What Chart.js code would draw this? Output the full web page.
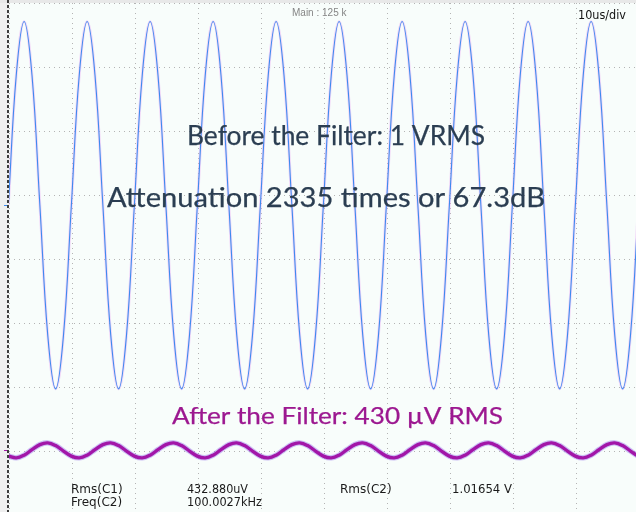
<!DOCTYPE html>
<html>
<head>
<meta charset="utf-8">
<script src="https://cdn.jsdelivr.net/npm/chart.js@4.4.1/dist/chart.umd.min.js"></script>
<style>
  html, body { margin: 0; padding: 0; overflow: hidden; background: #e8e8e8; }
  #scope { position: absolute; left: 0; top: 0; width: 640px; height: 516px; }
</style>
</head>
<body>
<div id="scope"><canvas id="scopeChart"></canvas></div>
<script>
// Sample times in us (10 us/div, 10 divisions)
const sampleTimes = [
  -0.1, 1.15, 2.4, 3.65, 4.9, 6.15, 7.4, 8.65,
  9.9, 11.15, 12.4, 13.65, 14.9, 16.15, 17.4, 18.65,
  19.9, 21.15, 22.4, 23.65, 24.9, 26.15, 27.4, 28.65,
  29.9, 31.15, 32.4, 33.65, 34.9, 36.15, 37.4, 38.65,
  39.9, 41.15, 42.4, 43.65, 44.9, 46.15, 47.4, 48.65,
  49.9, 51.15, 52.4, 53.65, 54.9, 56.15, 57.4, 58.65,
  59.9, 61.15, 62.4, 63.65, 64.9, 66.15, 67.4, 68.65,
  69.9, 71.15, 72.4, 73.65, 74.9, 76.15, 77.4, 78.65,
  79.9, 81.15, 82.4, 83.65, 84.9, 86.15, 87.4, 88.65,
  89.9, 91.15, 92.4, 93.65, 94.9, 96.15, 97.4, 98.65,
  99.9, 101.15,
];

// C1 - before the filter (screen divisions)
const ch1Values = [
  0.84, 2.87, 3.71, 2.87, 0.84, -1.19, -2.03, -1.19,
  0.84, 2.87, 3.71, 2.87, 0.84, -1.19, -2.03, -1.19,
  0.84, 2.87, 3.71, 2.87, 0.84, -1.19, -2.03, -1.19,
  0.84, 2.87, 3.71, 2.87, 0.84, -1.19, -2.03, -1.19,
  0.84, 2.87, 3.71, 2.87, 0.84, -1.19, -2.03, -1.19,
  0.84, 2.87, 3.71, 2.87, 0.84, -1.19, -2.03, -1.19,
  0.84, 2.87, 3.71, 2.87, 0.84, -1.19, -2.03, -1.19,
  0.84, 2.87, 3.71, 2.87, 0.84, -1.19, -2.03, -1.19,
  0.84, 2.87, 3.71, 2.87, 0.84, -1.19, -2.03, -1.19,
  0.84, 2.87, 3.71, 2.87, 0.84, -1.19, -2.03, -1.19,
  0.84, 2.87,
];

// C2 - after the filter (screen divisions)
const ch2Values = [
  -3.08, -3.107, -3.065, -2.979, -2.9, -2.873, -2.915, -3.001,
  -3.08, -3.107, -3.065, -2.979, -2.9, -2.873, -2.915, -3.001,
  -3.08, -3.107, -3.065, -2.979, -2.9, -2.873, -2.915, -3.001,
  -3.08, -3.107, -3.065, -2.979, -2.9, -2.873, -2.915, -3.001,
  -3.08, -3.107, -3.065, -2.979, -2.9, -2.873, -2.915, -3.001,
  -3.08, -3.107, -3.065, -2.979, -2.9, -2.873, -2.915, -3.001,
  -3.08, -3.107, -3.065, -2.979, -2.9, -2.873, -2.915, -3.001,
  -3.08, -3.107, -3.065, -2.979, -2.9, -2.873, -2.915, -3.001,
  -3.08, -3.107, -3.065, -2.979, -2.9, -2.873, -2.915, -3.001,
  -3.08, -3.107, -3.065, -2.979, -2.9, -2.873, -2.915, -3.001,
  -3.08, -3.107,
];

const timeTicks = [0, 10, 20, 30, 40, 50, 60, 70, 80, 90, 100];
const divTicks = [-4, -3, -2, -1, 0, 1, 2, 3, 4];
const channelOffsets = [0.84, -2.99];

const captions = [
  "Before the Filter: 1 VRMS",
  "Attenuation 2335 times or 67.3dB",
  "After the Filter: 430 \u00B5V RMS",
];
const measureLabels = ["Rms(C1)", "Freq(C2)", "Rms(C2)"];
const measureValues = ["432.880uV", "100.0027kHz", "1.01654 V"];
const headerText = "Main : 125 k";
const timebaseText = "10us/div";

const SCOPE_COLORS = {
  screen: "#f8fdfb",
  frame: "#e8e8e8",
  margin: "#efefef",
  grid: "#b4b4b4",
  ch1: "rgb(62, 138, 238)",
  ch1Glow: "rgba(232, 160, 242, 0.4)",
  ch2: "rgb(162, 22, 168)",
  ch2Glow: "rgba(150, 115, 235, 0.45)",
  caption: "#2b3e52",
  captionAfter: "#9c1890",
};

function toPoints(values) {
  return sampleTimes.map((t, i) => ({ x: t, y: values[i] }));
}

function drawFitted(ctx, text, x, y, width, stroke) {
  const natural = ctx.measureText(text).width;
  ctx.save();
  ctx.translate(x, y);
  ctx.scale(width / natural, 1);
  ctx.fillText(text, 0, 0);
  if (stroke) {
    ctx.strokeStyle = ctx.fillStyle;
    ctx.lineWidth = stroke;
    ctx.strokeText(text, 0, 0);
  }
  ctx.restore();
}

const scopeScreen = {
  id: "scopeScreen",
  beforeDraw(chart) {
    const { ctx, chartArea: a, width, height } = chart;
    ctx.save();
    ctx.fillStyle = SCOPE_COLORS.frame;
    ctx.fillRect(0, 0, width, height);
    ctx.fillStyle = SCOPE_COLORS.margin;
    ctx.fillRect(0, a.top, a.left, height - a.top);
    ctx.fillStyle = SCOPE_COLORS.screen;
    ctx.fillRect(a.left, a.top, a.right - a.left, a.bottom - a.top);
    ctx.restore();
  },
  afterDatasetsDraw(chart) {
    const { ctx, chartArea: a, scales } = chart;
    ctx.save();
    // dashed left edge of the screen
    ctx.strokeStyle = "#3c3c3c";
    ctx.lineWidth = 2;
    ctx.setLineDash([3, 2]);
    ctx.beginPath();
    ctx.moveTo(a.left - 1, 0);
    ctx.lineTo(a.left - 1, a.bottom);
    ctx.stroke();
    ctx.setLineDash([]);
    // channel offset markers
    const markerColors = [SCOPE_COLORS.ch1, SCOPE_COLORS.ch2];
    ctx.lineWidth = 1;
    channelOffsets.forEach((v, i) => {
      const y = Math.round(scales.y.getPixelForValue(v)) + 0.5;
      ctx.strokeStyle = markerColors[i];
      ctx.beginPath();
      ctx.moveTo(a.left - 5, y);
      ctx.lineTo(a.left - 2, y);
      ctx.stroke();
    });
    ctx.restore();
  },
  afterDraw(chart) {
    const { ctx } = chart;
    ctx.save();
    ctx.textBaseline = "alphabetic";
    ctx.textAlign = "left";

    ctx.fillStyle = "#858585";
    ctx.font = "10px 'Liberation Sans'";
    ctx.fillText(headerText, 292, 16);

    ctx.fillStyle = "#111";
    ctx.font = "12.5px 'DejaVu Sans'";
    drawFitted(ctx, timebaseText, 578, 19, 48);

    ctx.font = "27px Lato";
    ctx.fillStyle = SCOPE_COLORS.caption;
    drawFitted(ctx, captions[0], 187, 145, 298, 0.25);
    drawFitted(ctx, captions[1], 107, 207, 438, 0.25);
    ctx.font = "24px Lato";
    ctx.fillStyle = SCOPE_COLORS.captionAfter;
    drawFitted(ctx, captions[2], 172, 424, 331, 0.25);

    ctx.fillStyle = "#1a1a1a";
    ctx.font = "12px 'DejaVu Sans'";
    ctx.fillText(measureLabels[0], 71, 493);
    ctx.fillText(measureLabels[1], 71, 506);
    ctx.fillText(measureLabels[2], 340, 493);
    drawFitted(ctx, measureValues[0], 187, 493, 61);
    drawFitted(ctx, measureValues[1], 187, 506, 75);
    drawFitted(ctx, measureValues[2], 452, 493, 60);
    ctx.restore();
  },
};

function gridAxis(min, max, ticks) {
  return {
    type: "linear",
    min: min,
    max: max,
    afterBuildTicks: (axis) => {
      axis.ticks = ticks.map((v) => ({ value: v }));
    },
    ticks: { display: false },
    grid: {
      color: SCOPE_COLORS.grid,
      lineWidth: 1,
      drawTicks: false,
    },
    border: { display: false, dash: [1, 4] },
  };
}

function createScope() {
  const ctx = document.getElementById("scopeChart").getContext("2d");
  new Chart(ctx, {
    type: "line",
    data: {
      datasets: [
        {
          label: "C1",
          data: toPoints(ch1Values),
          borderColor: SCOPE_COLORS.ch1,
          borderWidth: 1.1,
          tension: 0.4,
          pointRadius: 0,
        },
        {
          label: "C2",
          data: toPoints(ch2Values),
          borderColor: SCOPE_COLORS.ch2,
          borderWidth: 3.4,
          tension: 0.4,
          pointRadius: 0,
        },
        {
          label: "C1 glow",
          data: toPoints(ch1Values),
          borderColor: SCOPE_COLORS.ch1Glow,
          borderWidth: 2.8,
          tension: 0.4,
          pointRadius: 0,
        },
        {
          label: "C2 glow",
          data: toPoints(ch2Values),
          borderColor: SCOPE_COLORS.ch2Glow,
          borderWidth: 5.5,
          tension: 0.4,
          pointRadius: 0,
        },
      ],
    },
    options: {
      responsive: true,
      maintainAspectRatio: false,
      animation: false,
      events: [],
      layout: { padding: { left: 9, top: 3, right: 1, bottom: 1 } },
      plugins: {
        legend: { display: false },
        tooltip: { enabled: false },
      },
      scales: {
        x: gridAxis(0, 100, timeTicks),
        y: gridAxis(-4, 4, divTicks),
      },
    },
    plugins: [scopeScreen],
  });
}

document.addEventListener("DOMContentLoaded", createScope);
</script>
</body>
</html>
